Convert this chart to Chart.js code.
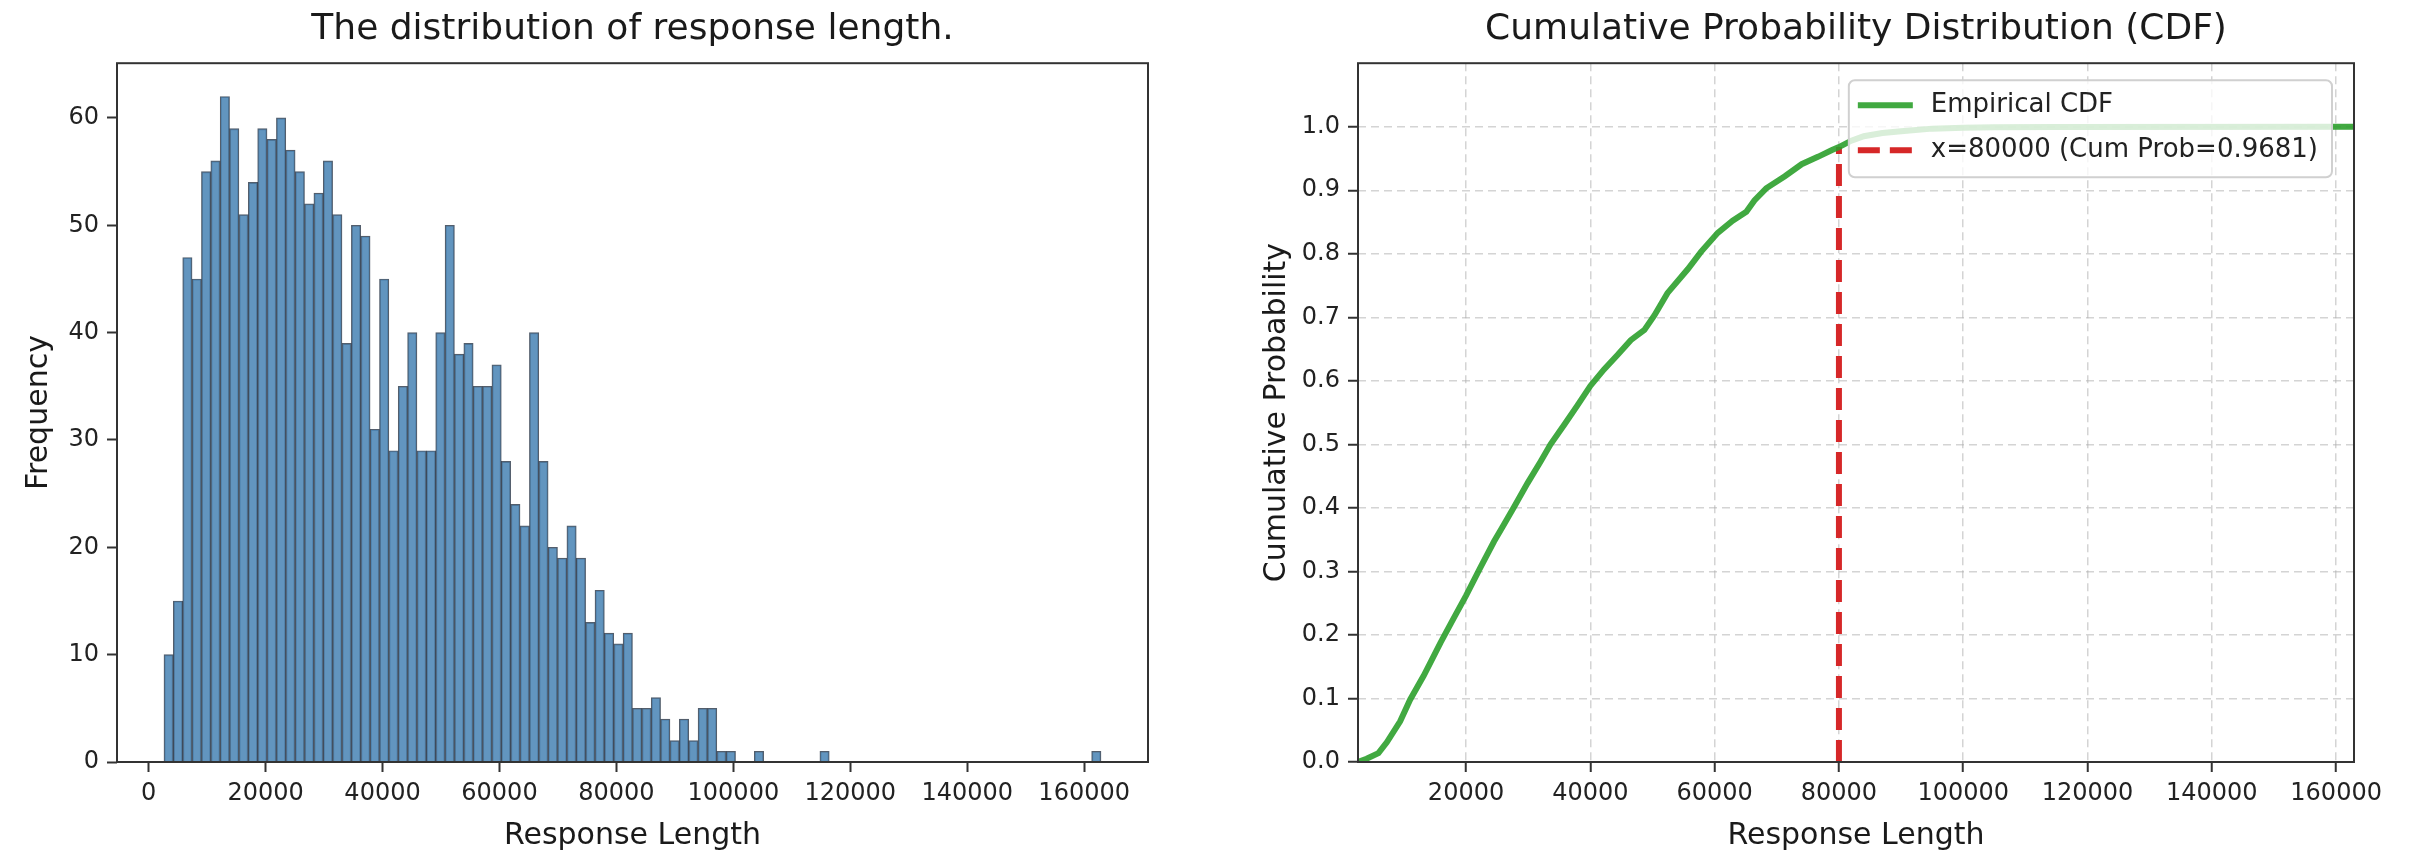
<!DOCTYPE html>
<html>
<head>
<meta charset="utf-8">
<script src="https://cdn.jsdelivr.net/npm/chart.js@4/dist/chart.umd.min.js"></script>
<style>
  html, body { margin: 0; padding: 0; background: #fff; }
  #wrap { position: relative; width: 2424px; height: 862px; }
  .box { position: absolute; top: 0; width: 1212px; height: 862px; }
</style>
</head>
<body>
<div id="wrap">
  <div class="box" style="left:0"><canvas id="histChart"></canvas></div>
  <div class="box" style="left:1212px"><canvas id="cdfChart"></canvas></div>
</div>
<script>
// histogram: 100 equal bins from the shortest to the longest response
const binStart = 2616;
const binWidth = 1602.6;
const counts = [
  10, 15, 47, 45, 55, 56, 62, 59, 51, 54,
  59, 58, 60, 57, 55, 52, 53, 56, 51, 39,
  50, 49, 31, 45, 29, 35, 40, 29, 29, 40,
  50, 38, 39, 35, 35, 37, 28, 24, 22, 40,
  28, 20, 19, 22, 19, 13, 16, 12, 11, 12,
  5, 5, 6, 4, 2, 4, 2, 5, 5, 1,
  1, 0, 0, 1, 0, 0, 0, 0, 0, 0,
  1, 0, 0, 0, 0, 0, 0, 0, 0, 0,
  0, 0, 0, 0, 0, 0, 0, 0, 0, 0,
  0, 0, 0, 0, 0, 0, 0, 0, 0, 1
];
const histXTicks = [0, 20000, 40000, 60000, 80000, 100000, 120000, 140000, 160000];
const histYTicks = [0, 10, 20, 30, 40, 50, 60];

// empirical CDF
const cdfX = [2616, 4000, 5900, 7250, 9400, 11000, 13200, 15900, 18000, 20000,
  22300, 24500, 26100, 27700, 29900, 32000, 33600, 35800, 37900, 40000,
  42200, 44400, 46500, 48700, 50300, 52400, 55700, 57800, 60500, 62900,
  65100, 66400, 68300, 71300, 74000, 76700, 78800, 80000, 82000, 84000,
  87000, 90000, 95000, 100000, 105000, 115000, 162876];
const cdfY = [0, 0.005, 0.014, 0.031, 0.064, 0.098, 0.136, 0.188, 0.226, 0.262,
  0.306, 0.347, 0.374, 0.401, 0.439, 0.473, 0.500, 0.531, 0.561, 0.592,
  0.618, 0.641, 0.664, 0.680, 0.703, 0.738, 0.776, 0.803, 0.833, 0.852,
  0.866, 0.884, 0.903, 0.922, 0.941, 0.953, 0.963, 0.968, 0.978, 0.985,
  0.990, 0.993, 0.997, 0.9985, 0.999, 0.9995, 1.0];
const cutX = 80000;
const cutProb = 0.9681;
const cdfXTicks = [20000, 40000, 60000, 80000, 100000, 120000, 140000, 160000];
const cdfYTicks = [0, 0.1, 0.2, 0.3, 0.4, 0.5, 0.6, 0.7, 0.8, 0.9, 1.0];

Chart.defaults.font.family = "'DejaVu Sans', sans-serif";
Chart.defaults.color = '#222';
Chart.defaults.animation = false;

const FONT_TICK = 24, FONT_LABEL = 30, FONT_TITLE = 36, FONT_LEGEND = 26;

// matplotlib-like box around the plotting area
const framePlugin = {
  id: 'frame',
  afterDraw(chart) {
    const a = chart.chartArea, ctx = chart.ctx;
    ctx.save();
    ctx.strokeStyle = '#333';
    ctx.lineWidth = 2;
    ctx.strokeRect(a.left, a.top, a.right - a.left, a.bottom - a.top);
    ctx.restore();
  }
};

// legend drawn inside the axes, upper right, semi-transparent
const innerLegend = {
  id: 'innerLegend',
  afterDatasetsDraw(chart) {
    const a = chart.chartArea, ctx = chart.ctx;
    const sets = chart.data.datasets;
    ctx.save();
    ctx.font = FONT_LEGEND + "px 'DejaVu Sans'";
    const textW = Math.max(...sets.map(d => ctx.measureText(d.label).width));
    const pad = 9, handle = 55, gap = 18, rowH = 45;
    const w = pad + handle + gap + textW + 14, h = 97;
    const x0 = a.right - 22 - w, y0 = a.top + 17;
    ctx.beginPath();
    ctx.roundRect(x0, y0, w, h, 6);
    ctx.fillStyle = 'rgba(255,255,255,0.8)';
    ctx.fill();
    ctx.strokeStyle = '#d0d0d0';
    ctx.lineWidth = 2;
    ctx.stroke();
    sets.forEach((d, i) => {
      const y = y0 + 25 + i * rowH;
      ctx.beginPath();
      ctx.setLineDash(d.borderDash || []);
      ctx.strokeStyle = d.borderColor;
      ctx.lineWidth = d.borderWidth;
      ctx.moveTo(x0 + pad, y);
      ctx.lineTo(x0 + pad + handle, y);
      ctx.stroke();
      ctx.setLineDash([]);
      ctx.fillStyle = '#222';
      ctx.textBaseline = 'middle';
      ctx.fillText(d.label, x0 + pad + handle + gap, y);
    });
    ctx.restore();
  }
};

function fixedTicks(values) {
  return scale => { scale.ticks = values.map(v => ({ value: v })); };
}

// ---- left: histogram ----
new Chart(document.getElementById('histChart'), {
  type: 'bar',
  data: {
    datasets: [{
      label: 'Frequency',
      data: counts.map((c, i) => ({ x: binStart + (i + 0.5) * binWidth, y: c })),
      backgroundColor: 'rgba(70,130,180,0.85)',
      borderColor: 'rgba(10,25,45,0.7)',
      borderWidth: 1.2,
      barPercentage: 1,
      categoryPercentage: 1
    }]
  },
  options: {
    responsive: true,
    maintainAspectRatio: false,
    layout: { padding: { top: 0, right: 64, bottom: 0, left: 0 } },
    plugins: {
      legend: { display: false },
      tooltip: { enabled: false },
      title: {
        display: true,
        fullSize: false,
        text: 'The distribution of response length.',
        color: '#1a1a1a',
        font: { size: FONT_TITLE, weight: 'normal' },
        padding: { top: 8, bottom: 12 }
      }
    },
    scales: {
      x: {
        type: 'linear',
        offset: false,
        min: -5415,
        max: 170915,
        afterBuildTicks: fixedTicks(histXTicks),
        afterFit: s => { s.height = 100; },
        grid: { display: true, offset: false, drawOnChartArea: false, tickLength: 10, tickWidth: 2, tickColor: '#333' },
        border: { display: false },
        ticks: { font: { size: FONT_TICK }, padding: 7, maxRotation: 0, autoSkip: false, callback: v => String(v) },
        title: { display: true, text: 'Response Length', font: { size: FONT_LABEL }, padding: { top: 0, bottom: 8 }, color: '#1a1a1a' }
      },
      y: {
        min: 0,
        max: 65.1,
        afterBuildTicks: fixedTicks(histYTicks),
        afterFit: s => { s.width = 117; },
        grid: { display: true, drawOnChartArea: false, tickLength: 10, tickWidth: 2, tickColor: '#333' },
        border: { display: false },
        ticks: { font: { size: FONT_TICK }, padding: 8, autoSkip: false },
        title: { display: true, text: 'Frequency', font: { size: FONT_LABEL }, padding: { top: 21, bottom: 0 }, color: '#1a1a1a' }
      }
    }
  },
  plugins: [framePlugin]
});

// ---- right: CDF ----
new Chart(document.getElementById('cdfChart'), {
  type: 'line',
  data: {
    datasets: [{
      label: 'Empirical CDF',
      data: cdfX.map((x, i) => ({ x: x, y: cdfY[i] })),
      borderColor: 'rgba(44,160,44,0.9)',
      borderWidth: 6,
      pointRadius: 0,
      tension: 0
    }, {
      label: `x=${cutX} (Cum Prob=${cutProb})`,
      data: [{ x: cutX, y: 0 }, { x: cutX, y: cutProb }],
      borderColor: '#d62728',
      borderWidth: 6,
      borderDash: [22, 10],
      pointRadius: 0
    }]
  },
  options: {
    responsive: true,
    maintainAspectRatio: false,
    layout: { padding: { top: 0, right: 70, bottom: 0, left: 0 } },
    plugins: {
      legend: { display: false },
      tooltip: { enabled: false },
      title: {
        display: true,
        fullSize: false,
        text: 'Cumulative Probability Distribution (CDF)',
        color: '#1a1a1a',
        font: { size: FONT_TITLE, weight: 'normal' },
        padding: { top: 8, bottom: 12 }
      }
    },
    scales: {
      x: {
        type: 'linear',
        min: binStart,
        max: binStart + 100 * binWidth,
        afterBuildTicks: fixedTicks(cdfXTicks),
        afterFit: s => { s.height = 100; },
        grid: { color: 'rgba(176,176,176,0.55)', lineWidth: 1.5, tickLength: 10, tickWidth: 2, tickColor: '#333' },
        border: { display: false, dash: [8, 5] },
        ticks: { font: { size: FONT_TICK }, padding: 7, maxRotation: 0, autoSkip: false, callback: v => String(v) },
        title: { display: true, text: 'Response Length', font: { size: FONT_LABEL }, padding: { top: 0, bottom: 8 }, color: '#1a1a1a' }
      },
      y: {
        min: 0,
        max: 1.1,
        afterBuildTicks: fixedTicks(cdfYTicks),
        afterFit: s => { s.width = 146; },
        grid: { color: 'rgba(176,176,176,0.55)', lineWidth: 1.5, tickLength: 10, tickWidth: 2, tickColor: '#333' },
        border: { display: false, dash: [8, 5] },
        ticks: { font: { size: FONT_TICK }, padding: 8, autoSkip: false, callback: v => v.toFixed(1) },
        title: { display: true, text: 'Cumulative Probability', font: { size: FONT_LABEL }, padding: { top: 47, bottom: 0 }, color: '#1a1a1a' }
      }
    }
  },
  plugins: [framePlugin, innerLegend]
});
</script>
</body>
</html>
